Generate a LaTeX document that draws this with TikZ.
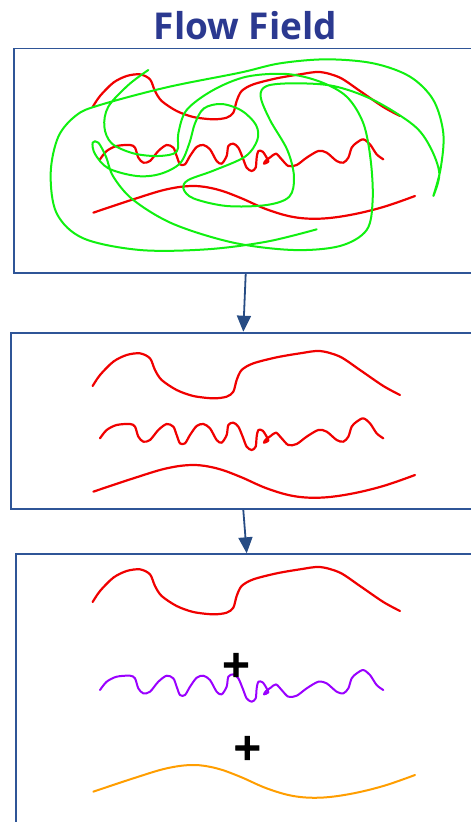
\documentclass[tikz,border=0pt]{standalone}
\usepackage{fontspec}
\setmainfont{Open Sans}
\newfontface\plusfont{DejaVu Sans Bold}[FakeBold=2.5]
\usetikzlibrary{arrows.meta,calc}
\definecolor{boxblue}{HTML}{2F5597}
\definecolor{arrowblue}{HTML}{274C84}
\definecolor{titleblue}{HTML}{2B3990}
\definecolor{curvered}{HTML}{F00000}
\definecolor{scribble}{HTML}{10F010}
\definecolor{wavepurple}{HTML}{9A00FF}
\definecolor{waveorange}{HTML}{FF9E00}
\newcommand\curveA{plot[smooth,tension=0.5] coordinates {(278,348) (300,315) (340,275) (380,255) (420,250) (450,265) (465,300) (485,330) (530,360) (580,378) (640,385) (680,380) (700,365) (710,330) (725,300) (760,280) (830,262) (900,250) (960,243) (1020,260) (1080,300) (1150,348) (1200,375)}}
\newcommand\curveB{plot[smooth,tension=0.5] coordinates {(300,505) (320,480) (350,465) (390,462) (405,470) (415,500) (430,515) (450,510) (475,480) (500,462) (520,470) (530,495) (540,520) (555,520) (570,495) (590,468) (610,462) (630,475) (650,510) (665,518) (680,495) (685,465) (700,458) (715,470) (728,500) (740,530) (755,540) (767,530) (770,500) (775,480) (788,482) (800,500) (805,512) (792,518) (798,508) (812,498) (828,488) (845,505) (865,525) (890,522) (920,500) (955,480) (980,485) (1010,510) (1030,515) (1045,500) (1055,470) (1070,455) (1090,445) (1110,460) (1130,490) (1150,505)}}
\newcommand\curveC{plot[smooth,tension=0.6] coordinates {(280,665) (400,625) (500,595) (580,585) (650,595) (720,620) (800,655) (880,678) (960,683) (1050,672) (1150,648) (1245,615)}}
\begin{document}
\begin{tikzpicture}[x=1pt,y=-1pt,
  box/.style={draw=boxblue, line width=1.8pt, rectangle, inner sep=0pt, anchor=north west},
  arr/.style={draw=arrowblue, line width=1.8pt, -{Triangle[length=16pt,width=14pt]}},
  redline/.style={draw=curvered, line width=2.2pt, line cap=round, line join=round},
  purpleline/.style={draw=wavepurple, line width=2pt, line cap=round, line join=round},
  orangeline/.style={draw=waveorange, line width=2pt, line cap=round, line join=round},
  greenline/.style={draw=scribble, line width=2pt, line cap=round, line join=round},
  plussign/.style={font=\plusfont\fontsize{37}{40}\selectfont, inner sep=0pt, text=black}]
\clip (0,0) rectangle (471,822);
\fill[white] (0,0) rectangle (471,822);
% title
\node[font=\bfseries\fontsize{37}{40}\selectfont, text=titleblue, anchor=base, inner sep=0pt] (title) at (245.5,39.3) {Flow Field};
% boxes
\node[box, minimum width=500pt, minimum height=224.5pt] (b1) at (13,47.5) {};
\node[box, minimum width=500pt, minimum height=176.6pt] (b2) at (10.3,331.7) {};
\node[box, minimum width=500pt, minimum height=300pt] (b3) at (15,553.3) {};
% arrows
\draw[arr] ([xshift=232.7pt]b1.south west) -- ([xshift=233pt]b2.north west);
\draw[arr] ([xshift=233pt]b2.south west) -- ([xshift=231.7pt]b3.north west);
% box 1: red curves
\draw[redline, shift={(0,-9)}, scale=1/3] \curveA;
\draw[redline, shift={(0,-9)}, scale=1/3] \curveB;
\draw[redline, shift={(0,-9)}, scale=1/3] \curveC;
% box 1: green scribble
\draw[greenline, scale=1/3] plot[smooth,tension=0.55] coordinates {
 (445,210) (385,255) (325,320) (313,380) (335,430) (400,460) (475,468) (530,455)
 (535,400) (560,330) (640,270) (740,230) (860,222) (960,245) (1040,290) (1090,370)
 (1112,480) (1118,600) (1100,690) (1020,738) (880,750) (700,728) (520,672) (400,600)
 (340,530) (318,470) (295,428) (278,428) (285,462) (325,505) (410,528) (480,522)
 (540,490) (568,430) (585,370) (612,325) (665,312) (725,332) (768,375) (772,420)
 (735,470) (640,512) (565,540) (550,565) (580,595) (680,618) (800,615) (868,590)
 (882,530) (862,450) (810,360) (782,290) (800,258) (880,250) (1000,258) (1120,300)
 (1240,375) (1290,440) (1318,520) (1300,588) (1322,505) (1330,400) (1300,300)
 (1230,230) (1120,190) (980,178) (840,190) (720,218) (500,262) (300,315) (230,345)
 (175,410) (152,520) (170,640) (250,715) (420,750) (620,748) (800,725) (950,688)};
% box 2
\draw[redline, shift={(0,270)}, scale=1/3] \curveA;
\draw[redline, shift={(0,270)}, scale=1/3] \curveB;
\draw[redline, shift={(0,270)}, scale=1/3] \curveC;
% box 3
\draw[redline, shift={(0,486)}, scale=1/3] \curveA;
\draw[purpleline, shift={(0,521.7)}, scale=1/3] \curveB;
\draw[orangeline, shift={(0,570)}, scale=1/3] \curveC;
\node[plussign] (plus1) at (236,665) {+};
\node[plussign] (plus2) at (247.3,748) {+};
\end{tikzpicture}
\end{document}
